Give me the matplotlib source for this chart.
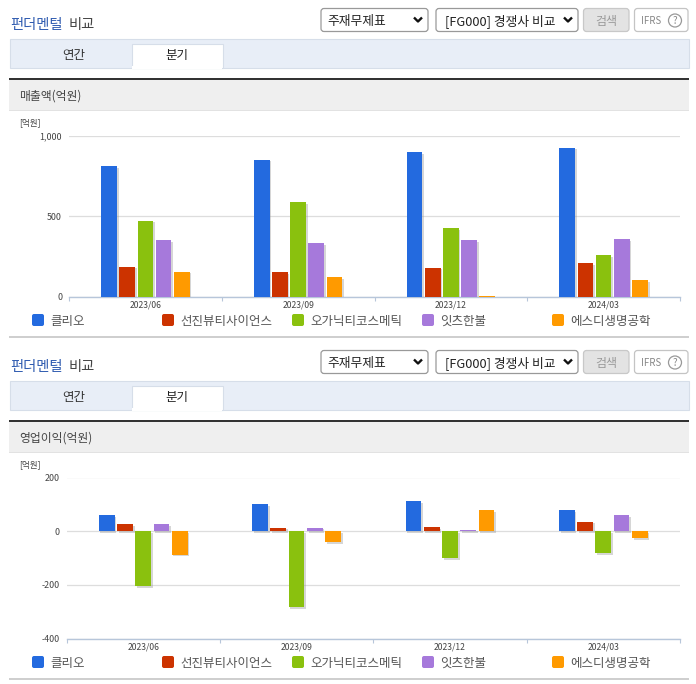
import matplotlib
matplotlib.use("Agg")
import matplotlib.pyplot as plt
import matplotlib.patheffects as pe
import numpy as np
from matplotlib.patches import Circle, FancyBboxPatch, Rectangle

plt.rcParams["font.family"] = ["Noto Sans CJK KR", "DejaVu Sans"]

W, H = 696, 684

quarters = ["2023/06", "2023/09", "2023/12", "2024/03"]
companies = ["클리오", "선진뷰티사이언스", "오가닉티코스메틱", "잇츠한불", "에스디생명공학"]
colors = ["#236ADF", "#CC3300", "#8AC10E", "#A679DB", "#FF9A00"]

sales_0606 = [810, 185, 470, 350, 155]
sales_0909 = [850, 150, 585, 330, 120]
sales_1212 = [895, 180, 425, 350, 6]
sales_0303 = [925, 205, 255, 355, 100]
sales = [sales_0606, sales_0909, sales_1212, sales_0303]

profit_0606 = [60, 25, -205, 25, -88]
profit_0909 = [101, 13, -284, 13, -40]
profit_1212 = [112, 16, -100, 5, 79]
profit_0303 = [79, 36, -81, 60, -25]
profit = [profit_0606, profit_0909, profit_1212, profit_0303]


def round_box(bg, x0, y0, x1, y1, fc, ec, r=3.0):
    bg.add_patch(FancyBboxPatch((x0, y0), x1 - x0, y1 - y0,
                                boxstyle=f"round,pad=0,rounding_size={r}",
                                fc=fc, ec=ec, lw=0.9))


def chevron(bg, x, y):
    bg.plot([x - 4, x, x + 4], [y - 2, y + 2, y - 2], color="#111111", lw=1.7,
            solid_capstyle="butt")


def draw_panel(bg, off, label):
    bg.text(10, 24.5 + off, "펀더멘털", color="#2F5BB0", fontsize=10.3, weight="medium", va="center")
    bg.text(69, 24.5 + off, "비교", color="#444444", fontsize=10.3, weight="medium", va="center")

    round_box(bg, 321, 8.5 + off, 428, 31.5 + off, "white", "#999999")
    bg.text(327, 21 + off, "주재무제표", color="#222222", fontsize=9.2, va="center")
    chevron(bg, 418, 19.5 + off)
    round_box(bg, 436, 8.5 + off, 578, 31.5 + off, "white", "#999999")
    bg.text(445, 21 + off, "[FG000] 경쟁사 비교", color="#222222", fontsize=9.2, va="center")
    chevron(bg, 568, 19.5 + off)
    round_box(bg, 583.5, 8.5 + off, 629, 31.5 + off, "#E3E3E3", "#C8C8C8")
    bg.text(606, 21 + off, "검색", color="#999999", fontsize=8.6, ha="center", va="center")
    round_box(bg, 634.5, 8.5 + off, 688, 31.5 + off, "white", "#C4C4C4")
    bg.text(641, 20.5 + off, "IFRS", color="#888888", fontsize=7, va="center")
    bg.add_patch(Circle((675, 20.5 + off), 6.5, fc="white", ec="#999999", lw=0.9))
    bg.text(675, 20.5 + off, "?", color="#888888", fontsize=7, ha="center", va="center")

    bg.add_patch(Rectangle((9.5, 38.5 + off), 679, 29, fc="#E8EEF7", ec="#D6DEE9", lw=0.8))
    bg.add_patch(Rectangle((131.5, 43.5 + off), 91, 24.5, fc="white", ec="#D6DEE9", lw=0.8))
    bg.add_patch(Rectangle((132, 66 + off), 90, 3, fc="white", ec="none"))
    bg.text(74, 55.5 + off, "연간", color="#333333", fontsize=9, ha="center", va="center")
    bg.text(177, 55.5 + off, "분기", color="#222222", fontsize=9, ha="center", va="center")

    bg.add_patch(Rectangle((9, 78 + off), 680, 2, fc="#333333", ec="none"))
    bg.add_patch(Rectangle((9, 80 + off), 680, 30, fc="#EFEFEF", ec="none"))
    bg.add_patch(Rectangle((9, 110 + off), 680, 1, fc="#E2E2E2", ec="none"))
    bg.text(19, 96 + off, label, color="#444444", fontsize=8.5, va="center")
    bg.text(19, 123 + off, "[억원]", color="#444444", fontsize=6.2, va="center")

    for x, name, color in zip([32, 162, 292, 422, 552], companies, colors):
        bg.add_patch(FancyBboxPatch((x, 314 + off), 12, 12,
                                    boxstyle="round,pad=0,rounding_size=2", fc=color, ec="none"))
        bg.text(x + 18, 321.5 + off, name, color="#555555", fontsize=9, va="center")
    bg.add_patch(Rectangle((9, 335.5 + off), 680, 2, fc="#CFCFCF", ec="none"))


def draw_chart(fig, x0, x1, y0, y1, rows, ylim, yticks, ytick_labels):
    ax = fig.add_axes([x0 / W, 1 - y1 / H, (x1 - x0) / W, (y1 - y0) / H])
    ax.patch.set_alpha(0)
    n_q, n_c = len(rows), len(rows[0])
    shadow = [pe.SimplePatchShadow(offset=(1.2, -1.2), shadow_rgbFace="#999999", alpha=0.4),
              pe.Normal()]
    for j in range(n_c):
        vals = [row[j] for row in rows]
        pos = np.arange(n_q) + 0.5 + (j - (n_c - 1) / 2) * 0.119
        bars = ax.bar(pos, vals, width=0.103, color=colors[j], zorder=3)
        for b in bars:
            b.set_path_effects(shadow)
    ax.set_xlim(0, n_q)
    ax.set_ylim(*ylim)
    ax.set_yticks(yticks, ytick_labels)
    ax.set_xticks(np.arange(n_q + 1))
    ax.set_xticklabels([])
    ax.set_xticks(np.arange(n_q) + 0.5, quarters, minor=True)
    ax.tick_params(axis="x", which="major", length=3, width=0.8, color="#B7C6DA")
    ax.tick_params(axis="x", which="minor", length=0, labelsize=6.2, labelcolor="#444444", pad=3)
    ax.tick_params(axis="y", length=0, labelsize=6.4, labelcolor="#444444", pad=5)
    ax.grid(axis="y", color="#DDDDDD", lw=0.9)
    ax.set_axisbelow(True)
    for side in ["top", "right", "left"]:
        ax.spines[side].set_visible(False)
    ax.spines["bottom"].set_color("#B7C6DA")
    ax.spines["bottom"].set_linewidth(1.0)
    return ax


def main():
    fig = plt.figure(figsize=(W / 100, H / 100), dpi=100, facecolor="white")
    bg = fig.add_axes([0, 0, 1, 1])
    bg.set_xlim(0, W)
    bg.set_ylim(H, 0)
    bg.axis("off")

    draw_panel(bg, 0, "매출액(억원)")
    draw_panel(bg, 342, "영업이익(억원)")

    draw_chart(fig, 69, 680, 135.5, 296.5, sales, (0, 1000),
               [0, 500, 1000], ["0", "500", "1,000"])
    draw_chart(fig, 66.5, 680, 477.5, 638.5, profit, (-400, 200),
               [-400, -200, 0, 200], ["-400", "-200", "0", "200"])

    fig.savefig("out.png", dpi=100)
    plt.close(fig)


if __name__ == "__main__":
    main()
